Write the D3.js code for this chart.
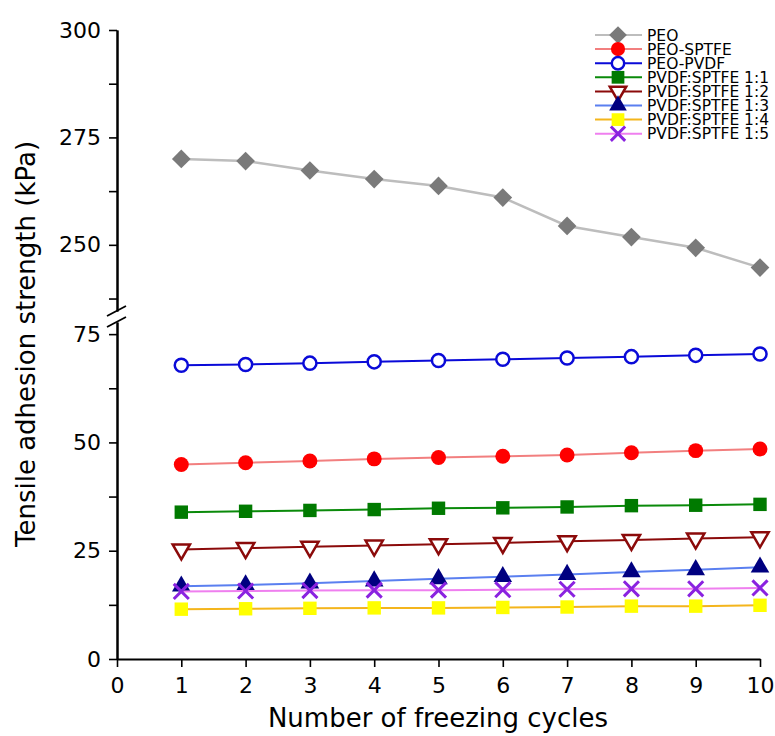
<!DOCTYPE html>
<html>
<head>
<meta charset="utf-8">
<script src="https://cdn.jsdelivr.net/npm/d3@7"></script>
<style>
  body { margin: 0; background: #fff; }
  svg text { font-family: "DejaVu Sans", sans-serif; fill: #000; }
</style>
</head>
<body>
<script>
// data
const cycles = [1, 2, 3, 4, 5, 6, 7, 8, 9, 10];
const seriesNames = ["PEO", "PEO-SPTFE", "PEO-PVDF", "PVDF:SPTFE 1:1", "PVDF:SPTFE 1:2",
                     "PVDF:SPTFE 1:3", "PVDF:SPTFE 1:4", "PVDF:SPTFE 1:5"];
const peo       = [270.0, 269.5, 267.3, 265.3, 263.7, 261.0, 254.4, 251.8, 249.3, 244.7];
const peoSptfe  = [44.9, 45.3, 45.7, 46.2, 46.5, 46.8, 47.1, 47.6, 48.1, 48.5];
const peoPvdf   = [67.8, 68.0, 68.3, 68.6, 68.9, 69.2, 69.5, 69.8, 70.1, 70.4];
const pvdf11    = [33.9, 34.1, 34.3, 34.5, 34.8, 34.9, 35.1, 35.4, 35.5, 35.7];
const pvdf12    = [25.3, 25.6, 25.9, 26.2, 26.5, 26.8, 27.2, 27.5, 27.8, 28.1];
const pvdf13    = [16.8, 17.1, 17.5, 18.0, 18.5, 19.0, 19.5, 20.1, 20.6, 21.2];
const pvdf14    = [11.5, 11.6, 11.7, 11.8, 11.8, 11.9, 12.0, 12.2, 12.2, 12.4];
const pvdf15    = [15.6, 15.7, 15.8, 15.9, 15.9, 16.0, 16.1, 16.2, 16.2, 16.4];
const xTicks = [0, 1, 2, 3, 4, 5, 6, 7, 8, 9, 10];
const yTopTicks = [250, 275, 300];
const yBotTicks = [0, 25, 50, 75];

const seriesValues = [peo, peoSptfe, peoPvdf, pvdf11, pvdf12, pvdf13, pvdf14, pvdf15];

// look of each series: line colour, marker shape, fill, outline
const looks = [
  {line: "#bdbdbd", shape: "diamond", fill: "#7a7a7a", stroke: "none", size: 175, lw: 2.5},
  {line: "#f27f7f", shape: "circle",  fill: "#ff0000", stroke: "none", size: 175, lw: 2},
  {line: "#0a0ad8", shape: "circle",  fill: "#ffffff", stroke: "#0a0ad8", size: 135, lw: 2},
  {line: "#0a8a0a", shape: "square",  fill: "#007a00", stroke: "none", size: 180, lw: 2},
  {line: "#8b0a0a", shape: "tridown", fill: "#ffffff", stroke: "#8b0a0a", size: 130, lw: 2},
  {line: "#5a7ff0", shape: "triup",   fill: "#000080", stroke: "none", size: 150, lw: 2},
  {line: "#f4b51c", shape: "square",  fill: "#ffff00", stroke: "none", size: 180, lw: 2},
  {line: "#ef7fef", shape: "x",       fill: "none",    stroke: "#8a22e0", size: 150, lw: 2}
];

const W = 775, H = 736;
const svg = d3.select("body").append("svg")
    .attr("width", W)
    .attr("height", H);

// scales: broken y axis with two segments
const x = d3.scaleLinear().domain([0, 10]).range([117, 760]);
const yTop = d3.scaleLinear().domain([234.6, 300]).range([311, 30]);
const yBot = d3.scaleLinear().domain([0, 77.8]).range([659, 322]);
const yOf = v => v > 150 ? yTop(v) : yBot(v);

function styleAxis(g, fs) {
  g.attr("font-family", null).attr("font-size", null);
  g.select(".domain").attr("stroke", "#000").attr("stroke-width", 2);
  g.selectAll(".tick line").attr("stroke", "#000").attr("stroke-width", 1.6);
  g.selectAll(".tick text").style("font-size", fs + "px");
}

// upper y segment
svg.append("g")
    .attr("transform", "translate(117,0)")
    .call(d3.axisLeft(yTop).tickValues([237.5, 262.5, 287.5]).tickSize(8).tickFormat("").tickSizeOuter(0))
    .call(g => styleAxis(g, 22));
svg.append("g")
    .attr("transform", "translate(117,0)")
    .call(d3.axisLeft(yTop).tickValues(yTopTicks).tickSize(8).tickPadding(8).tickSizeOuter(0))
    .call(g => styleAxis(g, 22));

// lower y segment
svg.append("g")
    .attr("transform", "translate(117,0)")
    .call(d3.axisLeft(yBot).tickValues([12.5, 37.5, 62.5]).tickSize(8).tickFormat("").tickSizeOuter(0))
    .call(g => styleAxis(g, 22));
svg.append("g")
    .attr("transform", "translate(117,0)")
    .call(d3.axisLeft(yBot).tickValues(yBotTicks).tickSize(8).tickPadding(8).tickSizeOuter(0))
    .call(g => styleAxis(g, 22));

// break marks
[yTop.range()[0], yBot.range()[1]].forEach(yy => {
  svg.append("line")
      .attr("x1", 107).attr("y1", yy + 5)
      .attr("x2", 126).attr("y2", yy - 5)
      .attr("stroke", "#000").attr("stroke-width", 1.8);
});

// x axis
svg.append("g")
    .attr("transform", "translate(0," + yBot(0) + ")")
    .call(d3.axisBottom(x).tickValues(xTicks).tickSize(8).tickPadding(10).tickSizeOuter(0))
    .call(g => styleAxis(g, 22));

// axis titles
svg.append("text")
    .attr("x", 438).attr("y", 727)
    .attr("text-anchor", "middle")
    .style("font-size", "26px")
    .text("Number of freezing cycles");

svg.append("text")
    .attr("transform", "translate(35,344) rotate(-90)")
    .attr("text-anchor", "middle")
    .style("font-size", "26px")
    .text("Tensile adhesion strength (kPa)");

// marker path generator
function markerPath(shape, size) {
  const types = {
    diamond: d3.symbolSquare, circle: d3.symbolCircle, square: d3.symbolSquare,
    tridown: d3.symbolTriangle, triup: d3.symbolTriangle, x: d3.symbolTimes
  };
  return d3.symbol().type(types[shape]).size(size)();
}
function markerRotate(shape) {
  if (shape === "diamond") return " rotate(45)";
  if (shape === "tridown") return " rotate(180)";
  return "";
}

const line = d3.line()
    .x((d, i) => x(cycles[i]))
    .y(d => yOf(d));

function drawMarker(g, look, cx, cy, scale) {
  g.append("path")
      .attr("d", markerPath(look.shape, look.size * scale))
      .attr("transform", "translate(" + cx + "," + cy + ")" + markerRotate(look.shape))
      .attr("fill", look.fill)
      .attr("stroke", look.stroke)
      .attr("stroke-width", look.shape === "x" ? 3 : 2.5);
}

seriesValues.forEach((vals, si) => {
  const look = looks[si];
  const g = svg.append("g");
  g.append("path")
      .datum(vals)
      .attr("d", line)
      .attr("fill", "none")
      .attr("stroke", look.line)
      .attr("stroke-width", look.lw);
  vals.forEach((v, i) => drawMarker(g, look, x(cycles[i]), yOf(v), 1));
});

// legend
const legend = svg.append("g");
seriesNames.forEach((name, si) => {
  const look = looks[si];
  const yy = 35 + si * 14.1;
  legend.append("line")
      .attr("x1", 595).attr("x2", 642)
      .attr("y1", yy).attr("y2", yy)
      .attr("stroke", look.line).attr("stroke-width", 2);
  drawMarker(legend, look, 618, yy, 0.9);
  legend.append("text")
      .attr("x", 647).attr("y", yy)
      .attr("dy", "0.36em")
      .style("font-size", "15.5px")
      .text(name);
});
</script>
</body>
</html>
